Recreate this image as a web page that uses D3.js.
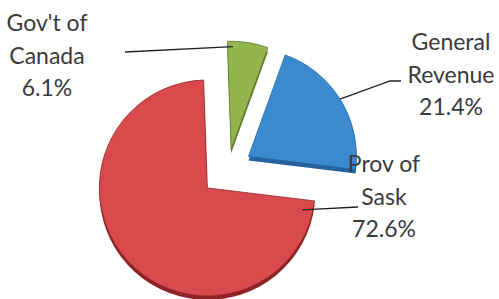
<!DOCTYPE html>
<html>
<head>
<meta charset="utf-8">
<script src="https://cdn.jsdelivr.net/npm/d3@7"></script>
<style>
  body { margin: 0; background: #fff; }
  .lbl { font-family: Lato, "Open Sans", sans-serif; font-size: 23px; fill: #3a3a3a; }
</style>
</head>
<body>
<div id="chart"></div>
<script>
// chart data
var categories = ["Gov't of Canada", "General Revenue", "Prov of Sask"];
var labelLines = [["Gov't of", "Canada"], ["General", "Revenue"], ["Prov of", "Sask"]];
var shares = [6.1, 21.4, 72.6];
var colors = ["#93b54d", "#3b8ad0", "#d84a4b"];
var edgeColors = ["#5d7a2a", "#25629e", "#8e2326"];

var width = 499, height = 299;
var cx = 228, cy = 169, radius = 108, depth = 4;
var explode = [20, 24, 28];

// label placement: text centre x, first baseline y, leader path after the slice anchor
var labelPos = [
  {x: 47, y: 31, anchorA: 1, anchorR: 0.95, path: [[125, 52]]},
  {x: 451, y: 50, anchorA: 58, anchorR: 1.0, path: [[390, 81], [401, 81]]},
  {x: 384, y: 172, anchorA: 103, anchorR: 0.9, path: [[358, 207]]}
];
var lineStep = 32.5;

var svg = d3.select('#chart').append('svg')
  .attr('width', width)
  .attr('height', height);

var pie = d3.pie().sort(null)
  .startAngle(-2 * Math.PI / 180)
  .endAngle(2 * Math.PI - 2 * Math.PI / 180);
var arcs = pie(shares);

var arc = d3.arc().innerRadius(0).outerRadius(radius);

function offset(d, i) {
  var mid = (d.startAngle + d.endAngle) / 2;
  return [cx + Math.sin(mid) * explode[i], cy - Math.cos(mid) * explode[i]];
}

var slices = svg.append('g').attr('class', 'slices');

// side (depth) of each slice, drawn first
slices.selectAll('path.side')
  .data(arcs)
  .enter().append('path')
  .attr('class', 'side')
  .attr('d', arc)
  .attr('fill', (d, i) => edgeColors[i])
  .attr('transform', (d, i) => {
    var o = offset(d, i);
    return `translate(${o[0]}, ${o[1] + depth})`;
  });

// top faces
slices.selectAll('path.top')
  .data(arcs)
  .enter().append('path')
  .attr('class', 'top')
  .attr('d', arc)
  .attr('fill', (d, i) => colors[i])
  .attr('stroke', (d, i) => edgeColors[i])
  .attr('stroke-width', 0.8)
  .attr('transform', (d, i) => {
    var o = offset(d, i);
    return `translate(${o[0]}, ${o[1]})`;
  });

// leader lines
var leaders = svg.append('g').attr('class', 'leaders');
arcs.forEach(function(d, i) {
  var o = offset(d, i);
  var p = labelPos[i];
  var a = p.anchorA * Math.PI / 180;
  var start = [o[0] + Math.sin(a) * radius * p.anchorR, o[1] - Math.cos(a) * radius * p.anchorR];
  leaders.append('path')
    .attr('d', d3.line()([start].concat(p.path)))
    .attr('fill', 'none')
    .attr('stroke', '#222')
    .attr('stroke-width', 1.3);
});

// labels
var labels = svg.append('g').attr('class', 'labels');
categories.forEach(function(c, i) {
  var p = labelPos[i];
  var t = labels.append('text')
    .attr('class', 'lbl')
    .attr('text-anchor', 'middle')
    .attr('x', p.x)
    .attr('y', p.y);
  var lines = labelLines[i].concat([d3.format('.1f')(shares[i]) + '%']);
  lines.forEach(function(s, k) {
    t.append('tspan')
      .attr('x', p.x)
      .attr('y', p.y + k * lineStep)
      .text(s);
  });
});
</script>
</body>
</html>
